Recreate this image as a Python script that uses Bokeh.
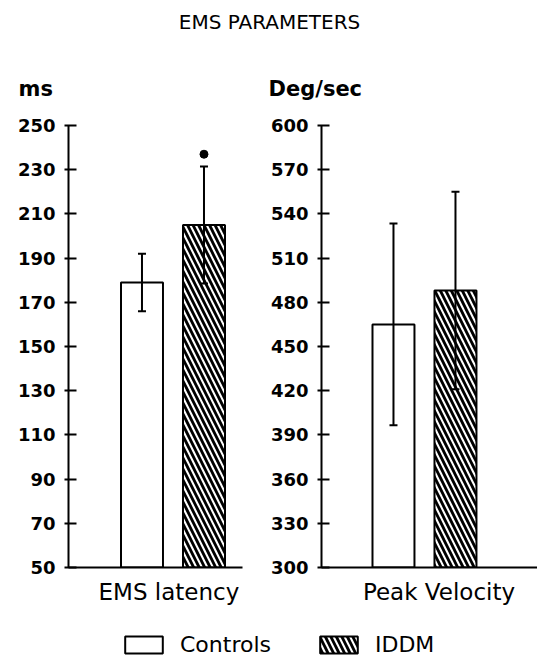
from bokeh.plotting import figure
from bokeh.models import (Range1d, FixedTicker, Whisker, TeeHead, ColumnDataSource,
                          Label, Legend, LegendItem, Title)
from bokeh.layouts import column, row
from bokeh.embed import file_html
from bokeh.resources import INLINE

# ---------------- data ----------------
title = "EMS PARAMETERS"
groups = ["Controls", "IDDM"]
group_hatch = [" ", "\\"]

ems_label = "EMS latency"
ems_unit = "ms"
ems_mean = [179, 205]
ems_sd = [13, 26.5]
ems_sig = [False, True]
ems_ticks = [50, 70, 90, 110, 130, 150, 170, 190, 210, 230, 250]

vel_label = "Peak Velocity"
vel_unit = "Deg/sec"
vel_mean = [465, 488]
vel_sd = [68.5, 67]
vel_sig = [False, False]
vel_ticks = [300, 330, 360, 390, 420, 450, 480, 510, 540, 570, 600]

FONT = "DejaVu Sans"
TOP_H = 44
ROW_H = 570
LEG_H = 46
HATCH = dict(hatch_color="black", hatch_weight=2.8, hatch_scale=11)


def panel(width, bl, br, ticks, means, sds, sig, label, unit, label_pos,
          x_start, x_end, unit_off, star_dy):
    ylo, yhi = ticks[0], ticks[-1]
    p = figure(width=width, height=ROW_H, output_backend="svg", toolbar_location=None,
               x_range=Range1d(x_start, x_end), y_range=Range1d(ylo, yhi),
               min_border_left=bl, min_border_right=br, min_border_top=81,
               min_border_bottom=47)
    p.grid.visible = False
    p.outline_line_color = None
    xs = list(range(len(groups)))
    src = ColumnDataSource(dict(
        x=xs, top=means,
        lo=[m - s for m, s in zip(means, sds)],
        hi=[m + s for m, s in zip(means, sds)],
        hatch=group_hatch, group=groups))
    p.vbar(x="x", top="top", bottom=ylo, width=0.677, source=src,
           fill_color="white", line_color="black", line_width=2,
           hatch_pattern="hatch", **HATCH)
    w = Whisker(base="x", upper="hi", lower="lo", source=src, line_width=2,
                upper_head=TeeHead(size=8, line_width=2),
                lower_head=TeeHead(size=8, line_width=2), level="overlay")
    p.add_layout(w)
    sx = [x for x, s in zip(xs, sig) if s]
    sy = [m + s + star_dy for m, s, g in zip(means, sds, sig) if g]
    if sx:
        p.scatter(x=sx, y=sy, size=8, marker="circle", color="black")

    ya = p.yaxis[0]
    ya.ticker = FixedTicker(ticks=ticks)
    ya.minor_tick_line_color = None
    ya.major_tick_in = 8
    ya.major_tick_out = 4
    ya.axis_line_width = 2
    ya.major_tick_line_width = 2
    ya.major_label_standoff = 9
    ya.major_label_text_font = FONT
    ya.major_label_text_font_style = "bold"
    ya.major_label_text_font_size = "18px"
    ya.major_label_text_color = "black"

    xa = p.xaxis[0]
    xa.ticker = FixedTicker(ticks=[label_pos])
    xa.major_label_overrides = {label_pos: label}
    xa.major_tick_line_color = None
    xa.minor_tick_line_color = None
    xa.axis_line_width = 2
    xa.major_label_standoff = 5
    xa.major_label_text_font = FONT
    xa.major_label_text_font_size = "23px"
    xa.major_label_text_color = "black"

    p.add_layout(Title(text=unit, align="left", offset=unit_off, standoff=50,
                       text_font=FONT, text_font_style="bold",
                       text_font_size="21px", text_color="black"), "above")
    return p


p1 = panel(264, 68, 22, ems_ticks, ems_mean, ems_sd, ems_sig, ems_label, ems_unit,
           0.435, -1.185, 1.621, -50, 5.5)
p2 = panel(273, 57, 0, vel_ticks, vel_mean, vel_sd, vel_sig, vel_label, vel_unit,
           0.734, -1.161, 2.323, -53, 8)

# ---------------- title ----------------
pt = figure(width=537, height=TOP_H, output_backend="svg", toolbar_location=None,
            x_range=Range1d(0, 1), y_range=Range1d(0, TOP_H),
            min_border=0)
pt.axis.visible = False
pt.grid.visible = False
pt.outline_line_color = None
pt.add_layout(Label(x=0.501, y=23, text=title, text_font=FONT, text_font_size="20px",
                    text_align="center", text_baseline="alphabetic", text_color="black"))

# ---------------- legend ----------------
pl = figure(width=537, height=LEG_H, output_backend="svg", toolbar_location=None,
            x_range=Range1d(0, 1), y_range=Range1d(0, 1), min_border=0)
pl.axis.visible = False
pl.grid.visible = False
pl.outline_line_color = None
for i, (g, h) in enumerate(zip(groups, group_hatch)):
    r = pl.vbar(x=[i], top=[ems_mean[i]], width=0.5, fill_color="white",
                line_color="black", line_width=2, hatch_pattern=h, **HATCH)
    r.visible = False
    leg = Legend(items=[LegendItem(label=g, renderers=[r])],
                 location=(120 if i == 0 else 315, 3),
                 glyph_width=47, glyph_height=21, label_standoff=13,
                 padding=0, margin=0, border_line_color=None,
                 background_fill_alpha=0, inactive_fill_alpha=0,
                 label_text_font=FONT, label_text_font_size="22px",
                 label_text_color="black")
    pl.add_layout(leg)

layout = column(pt, row(p1, p2), pl)
open("out.html", "w").write(file_html(layout, INLINE))
